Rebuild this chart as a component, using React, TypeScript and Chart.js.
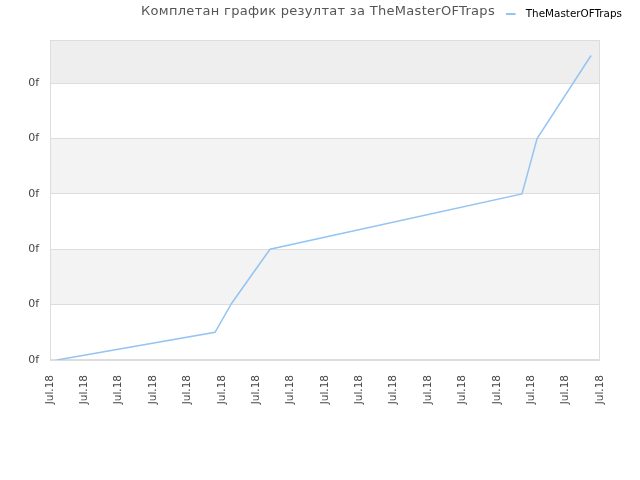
import React, { useEffect, useRef } from 'react';
import { Chart, registerables } from 'chart.js';

Chart.register(...registerables);

const chartTitle = 'Комплетан график резултат за TheMasterOFTraps';
const seriesName = 'TheMasterOFTraps';

// x positions (in tick units) and values
const pointX = [0.2, 4.8, 5.29, 6.4, 13.73, 14.17, 15.74];
const pointY = [0, 0.5, 1.03, 2, 3, 4, 5.5];

const xTickLabels = [
  'Jul.18', 'Jul.18', 'Jul.18', 'Jul.18', 'Jul.18', 'Jul.18', 'Jul.18', 'Jul.18', 'Jul.18',
  'Jul.18', 'Jul.18', 'Jul.18', 'Jul.18', 'Jul.18', 'Jul.18', 'Jul.18', 'Jul.18',
];
const yTickLabels = ['0f', '0f', '0f', '0f', '0f', '0f'];
const yMax = 5.78;

const FONT = '"DejaVu Sans", sans-serif';
const LINE_COLOR = '#94c4f2';

// legend marker: short line with some empty room after it
const makeMarker = () => {
  const c = document.createElement('canvas');
  c.width = 15;
  c.height = 2;
  const g = c.getContext('2d');
  if (g) {
    g.fillStyle = LINE_COLOR;
    g.fillRect(0, 0, 10, 2);
  }
  return c;
};

const bandsPlugin = {
  id: 'bands',
  afterLayout(chart: any) {
    // keep the legend on the title row, the plot starts lower
    const legend = chart.legend;
    if (legend) {
      legend.top = -1;
      legend.bottom = legend.top + legend.height;
    }
  },
  beforeDraw(chart: any) {
    const { ctx, chartArea } = chart;
    const y = chart.scales.y;
    const bands = [
      [1, 2, '#f3f3f3'],
      [3, 4, '#f3f3f3'],
      [5, yMax, '#eeeeee'],
    ] as [number, number, string][];
    ctx.save();
    bands.forEach(([a, b, c]) => {
      const top = y.getPixelForValue(b);
      const bottom = y.getPixelForValue(a);
      ctx.fillStyle = c;
      ctx.fillRect(chartArea.left, top, chartArea.right - chartArea.left, bottom - top);
    });
    ctx.restore();
  },
  beforeDatasetsDraw(chart: any) {
    const { ctx, chartArea } = chart;
    ctx.save();
    ctx.strokeStyle = '#dddddd';
    ctx.lineWidth = 1;
    ctx.strokeRect(chartArea.left + 0.5, chartArea.top + 0.5, chartArea.right - chartArea.left - 1, chartArea.bottom - chartArea.top - 1);
    ctx.restore();
  },
  afterDraw(chart: any) {
    const { ctx } = chart;
    ctx.save();
    ctx.font = '13px ' + FONT;
    ctx.fillStyle = '#555555';
    ctx.textAlign = 'center';
    ctx.textBaseline = 'middle';
    (ctx as any).letterSpacing = '0.3px';
    ctx.fillText(chartTitle, 318, 12);
    ctx.restore();
  },
};

const App: React.FC = () => {
  const canvasRef = useRef<HTMLCanvasElement>(null);
  const chartInstance = useRef<Chart | null>(null);

  useEffect(() => {
    if (!canvasRef.current) return;
    const ctx = canvasRef.current.getContext('2d');
    if (!ctx) return;

    chartInstance.current = new Chart(ctx, {
      type: 'line',
      data: {
        datasets: [{
          label: seriesName,
          data: pointX.map((x, i) => ({ x, y: pointY[i] })),
          borderColor: LINE_COLOR,
          backgroundColor: LINE_COLOR,
          borderWidth: 1.5,
          pointRadius: 0,
          tension: 0,
          fill: false,
        }],
      },
      options: {
        animation: false,
        responsive: true,
        maintainAspectRatio: false,
        layout: { padding: { top: 0, right: 8, left: 0, bottom: 0 } },
        plugins: {
          title: { display: false },
          tooltip: { enabled: false },
          legend: {
            display: true,
            position: 'top',
            align: 'end',
            labels: {
              usePointStyle: true,
              pointStyle: makeMarker() as any,
              pointStyleWidth: 15,
              padding: 10,
              color: '#000000',
              font: { family: FONT, size: 10.4 },
            },
          },
        },
        scales: {
          x: {
            type: 'linear',
            min: 0,
            max: xTickLabels.length - 1,
            grid: { display: false },
            border: { display: false },
            afterFit: (scale: any) => {
              scale.height = 120;
              scale.paddingRight = 40;
            },
            ticks: {
              stepSize: 1,
              autoSkip: false,
              maxRotation: 90,
              minRotation: 90,
              padding: 7,
              color: '#444444',
              font: { family: FONT, size: 10.5 },
              callback: (v: any) => xTickLabels[Math.round(Number(v))] ?? '',
            },
          },
          y: {
            type: 'linear',
            min: 0,
            max: yMax,
            grid: { color: '#dddddd', drawTicks: false },
            border: { display: false },
            afterFit: (scale: any) => {
              scale.width = 50;
              scale.paddingTop = 40;
            },
            ticks: {
              stepSize: 1,
              padding: 11,
              color: '#444444',
              font: { family: FONT, size: 11 },
              callback: (v: any) => Number.isInteger(v) ? (yTickLabels[v] ?? '') : '',
            },
          },
        },
      },
      plugins: [bandsPlugin],
    });

    return () => {
      if (chartInstance.current) {
        chartInstance.current.destroy();
        chartInstance.current = null;
      }
    };
  }, []);

  return (
    <div style={{ position: 'fixed', left: 0, top: 0, width: 640, height: 480, background: '#ffffff' }}>
      <canvas ref={canvasRef}></canvas>
    </div>
  );
};

export default App;
